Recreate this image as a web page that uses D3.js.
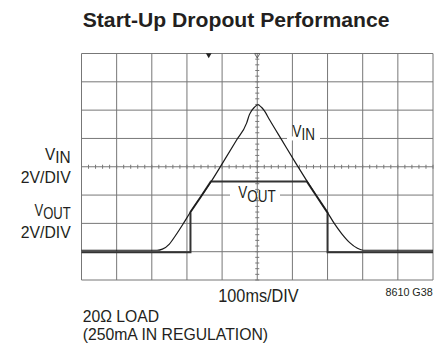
<!DOCTYPE html>
<html>
<head>
<meta charset="utf-8">
<script src="https://cdn.jsdelivr.net/npm/d3@7/dist/d3.min.js"></script>
<style>
  html, body { margin: 0; padding: 0; background: #fff; }
  svg { display: block; }
  text { font-family: "Liberation Sans", Arial, Helvetica, sans-serif; fill: #231f20; }
</style>
</head>
<body>
<svg id="chart" width="445" height="348"></svg>
<script>
// Scope screen: 10 horizontal divisions (100ms/DIV), 8 vertical divisions.
const timeDivs = d3.range(0, 1001, 100);      // ms
const levelDivs = d3.range(0, 9, 1);          // screen divisions

// VIN trace: time (ms) and level (divisions from bottom of screen)
const vinTime  = [0, 215, 230, 250, 268, 290, 310, 340, 368, 400, 440, 470, 478, 492, 502, 512, 520, 535, 570, 610, 641, 670, 700, 720, 740, 763, 785, 802, 1000];
const vinLevel = [1.05, 1.05, 1.09, 1.27, 1.58, 2.0, 2.4, 2.95, 3.46, 4.1, 4.92, 5.55, 5.85, 6.1, 6.19, 6.1, 5.98, 5.66, 4.94, 4.12, 3.5, 2.94, 2.38, 1.98, 1.64, 1.32, 1.12, 1.05, 1.05];

// VOUT trace: time (ms) and level (divisions)
const voutTime  = [0, 310, 310, 340, 368, 641, 670, 700, 700, 1000];
const voutLevel = [0.98, 0.98, 2.4, 2.95, 3.48, 3.48, 2.94, 2.38, 0.98, 0.98];

// Trigger markers along the top edge (ms)
const markerTime = [362, 500];

const svg = d3.select("#chart");
const x = d3.scaleLinear().domain([0, 1000]).range([81.5, 433]);
const y = d3.scaleLinear().domain([0, 8]).range([280, 53.5]);

// Squeeze a text horizontally to a condensed width, keeping its anchor x fixed
function fit(t, ax, width) {
  const w = t.node().getBBox().width;
  const s = width / w;
  t.attr("transform", `translate(${ax},0) scale(${s},1) translate(${-ax},0)`);
  return t;
}

function plain(xp, yp, str, size, width, opts = {}) {
  const t = svg.append("text").attr("x", xp).attr("y", yp)
    .attr("font-size", size).attr("text-anchor", opts.anchor || "start")
    .attr("font-weight", opts.bold ? "bold" : null)
    .text(str);
  return fit(t, xp, width);
}

function subLabel(xp, yp, main, sub, size, width, anchor, drop = 3.5) {
  const t = svg.append("text").attr("x", xp).attr("y", yp)
    .attr("font-size", size).attr("text-anchor", anchor || "start");
  t.append("tspan").text(main);
  t.append("tspan").attr("dy", drop).text(sub);
  return fit(t, xp, width);
}

// Title
plain(82.7, 26.7, "Start-Up Dropout Performance", 21, 307, { bold: true });

// Grid
const grid = svg.append("g").attr("stroke", "#777").attr("stroke-width", 1);
grid.selectAll("line.v").data(timeDivs).join("line")
  .attr("x1", d => x(d)).attr("x2", d => x(d))
  .attr("y1", y(0)).attr("y2", y(8));
grid.selectAll("line.h").data(levelDivs).join("line")
  .attr("x1", x(0)).attr("x2", x(1000))
  .attr("y1", d => y(d)).attr("y2", d => y(d));

// Minor ticks on the centre axes (5 per division)
const minorX = d3.range(0, 1000.1, 20);
const minorY = d3.range(0, 8.01, 0.2);
grid.selectAll("line.mx").data(minorX).join("line")
  .attr("x1", d => x(d)).attr("x2", d => x(d))
  .attr("y1", y(4) - 2).attr("y2", y(4) + 2);
grid.selectAll("line.my").data(minorY).join("line")
  .attr("x1", x(500) - 2).attr("x2", x(500) + 2)
  .attr("y1", d => y(d)).attr("y2", d => y(d));

// Breaks in the grid behind the in-screen trace labels
svg.append("rect").attr("x", 287).attr("y", y(5) - 2).attr("width", 33).attr("height", 4).attr("fill", "#fff");
svg.append("rect").attr("x", 230).attr("y", y(3) - 2).attr("width", 50).attr("height", 4).attr("fill", "#fff");

// Trigger markers
svg.append("path")
  .attr("d", d3.symbol(d3.symbolTriangle, 14)())
  .attr("transform", `translate(${x(markerTime[0])},${y(8) + 1.5}) rotate(180)`)
  .attr("fill", "#222");
svg.append("path")
  .attr("d", d3.symbol(d3.symbolTriangle, 12)())
  .attr("transform", `translate(${x(markerTime[1])},${y(8) + 1.5}) rotate(180)`)
  .attr("fill", "none").attr("stroke", "#555").attr("stroke-width", 0.9);

// Traces
const vinLine = d3.line().x((d, i) => x(vinTime[i])).y(d => y(d)).curve(d3.curveMonotoneX);
const voutLine = d3.line().x((d, i) => x(voutTime[i])).y(d => y(d));

svg.append("path").datum(voutLevel).attr("d", voutLine)
  .attr("fill", "none").attr("stroke", "#333").attr("stroke-width", 2);
svg.append("path").datum(vinLevel).attr("d", vinLine)
  .attr("fill", "none").attr("stroke", "#1a1a1a").attr("stroke-width", 1.2);

// In-screen trace labels
subLabel(292.5, 136.7, "V", "IN", 16, 22.5);
subLabel(238.3, 198.3, "V", "OUT", 16, 37.7);

// Channel scale labels on the left
subLabel(70.7, 160, "V", "IN", 16.5, 25.7, "end");
plain(70.7, 183.3, "2V/DIV", 16.5, 50, { anchor: "end" });
subLabel(70.7, 216.5, "V", "OUT", 16, 36.4, "end", 3);
plain(70.7, 238.3, "2V/DIV", 16.5, 50, { anchor: "end" });

// Time base and notes
plain(218.3, 301.7, "100ms/DIV", 18.5, 81);
plain(432.7, 296, "8610 G38", 10.5, 47.5, { anchor: "end" });
plain(82.7, 322, "20Ω LOAD", 16.5, 76.6);
plain(82.7, 340.5, "(250mA IN REGULATION)", 16.5, 185.6);
</script>
</body>
</html>
